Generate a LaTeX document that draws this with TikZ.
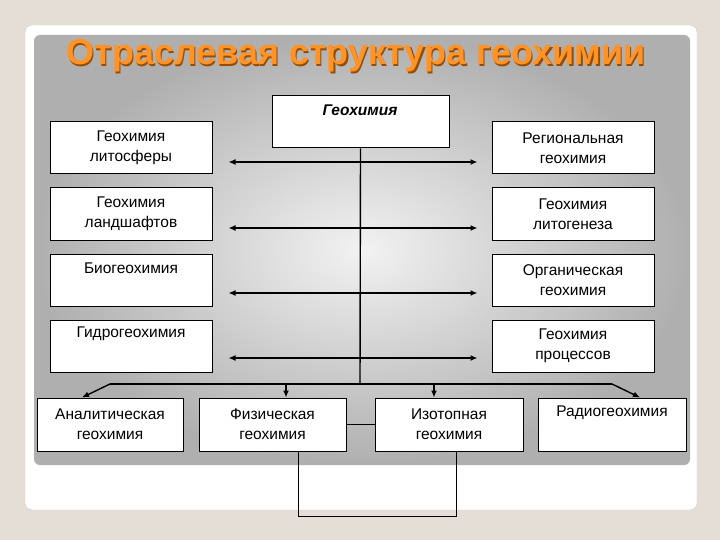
\documentclass[tikz,border=0pt]{standalone}
\usepackage{fontspec}
\setmainfont{Liberation Sans}
\usetikzlibrary{arrows.meta}
\begin{document}
\begin{tikzpicture}[x=1pt,y=-1pt,
  txt/.style={font=\fontsize{15.5}{20}\selectfont,align=center},
  box/.style={draw=black,fill=white,line width=1pt,inner sep=0pt,txt},
  arr/.style={line width=1.4pt,{Latex[length=7pt,width=6pt]}-{Latex[length=7pt,width=6pt]}},
  down/.style={line width=1.4pt,-{Latex[length=7pt,width=6pt]}}]
\useasboundingbox (0,0) rectangle (720,540);
\fill[color={rgb,255:red,228;green,222;blue,214}] (0,0) rectangle (720,540);
\fill[white,draw={rgb,255:red,205;green,200;blue,192},rounded corners=7pt] (25,25) rectangle (697,510);
\shade[rounded corners=6pt,inner color={rgb,255:red,242;green,242;blue,242},middle color={rgb,255:red,222;green,222;blue,222},outer color={rgb,255:red,175;green,175;blue,175}] (34,35) rectangle (690,465);
\node (titles) at (357.5,57.5) {\fontsize{36}{40}\selectfont\bfseries\color{orange!60!black}Отраслевая структура геохимии};
\node (title) at (356,56) {\fontsize{36}{40}\selectfont\bfseries\color{orange!85!white}Отраслевая структура геохимии};
% boxes
\node[box,minimum width=177pt,minimum height=52pt] (g) at (360.5,122) {};
\node[txt,font=\fontsize{15.5}{20}\selectfont\bfseries\itshape] (gt) at (360,110) {Геохимия};
\node[box,minimum width=162pt,minimum height=52pt] (l1) at (131,148) {Геохимия\\литосферы};
\node[box,minimum width=162pt,minimum height=53pt] (l2) at (131,214) {Геохимия\\ландшафтов};
\node[box,minimum width=162pt,minimum height=52pt] (l3) at (131,280) {};
\node[txt] (l3t) at (131,268) {Биогеохимия};
\node[box,minimum width=162pt,minimum height=52pt] (l4) at (131,346) {};
\node[txt] (l4t) at (131,334) {Гидрогеохимия};
\node[box,minimum width=162pt,minimum height=52pt] (r1) at (573,148) {Региональная\\геохимия};
\node[box,minimum width=162pt,minimum height=53pt] (r2) at (573,214) {Геохимия\\литогенеза};
\node[box,minimum width=162pt,minimum height=52pt] (r3) at (573,280) {Органическая\\геохимия};
\node[box,minimum width=162pt,minimum height=52pt] (r4) at (573,346) {Геохимия\\процессов};
\node[box,minimum width=146pt,minimum height=53pt] (b1) at (110,424.5) {Аналитическая\\геохимия};
\node[box,minimum width=147pt,minimum height=53pt] (b2) at (272.5,424.5) {Физическая\\геохимия};
\node[box,minimum width=148pt,minimum height=53pt] (b3) at (449,424.5) {Изотопная\\геохимия};
\node[box,minimum width=148pt,minimum height=53pt] (b4) at (612,424.5) {};
\node[txt] (b4t) at (612,413) {Радиогеохимия};
% arrows
\foreach \y in {162,228,293,358}{
  \draw[arr] ([xshift=16pt]l1.east |- 0,\y) -- ([xshift=-14pt]r1.west |- 0,\y);
}
\draw[line width=2.6pt] (232,228) -- (392,228);
\coordinate (hl) at (110,384);
\coordinate (hr) at (612,384);
\coordinate (hm) at (360,384);
\draw[line width=1.4pt] (g.south) -- (hm);
\draw[line width=2.6pt] (hl) -- (hr);
\draw[down] (hl) -- (b1.north -| 82,0);
\draw[down] (286,384) -- (b2.north -| 286,0);
\draw[down] (434,384) -- (b3.north -| 434,0);
\draw[down] (hr) -- (b4.north -| 640,0);
\draw[line width=0.7pt] (b2.east) -- (b3.west);
\draw[line width=0.7pt] (b2.south -| 298,0) -- (298,516) -- (456,516) -- (b3.south -| 456,0);
\end{tikzpicture}
\end{document}
